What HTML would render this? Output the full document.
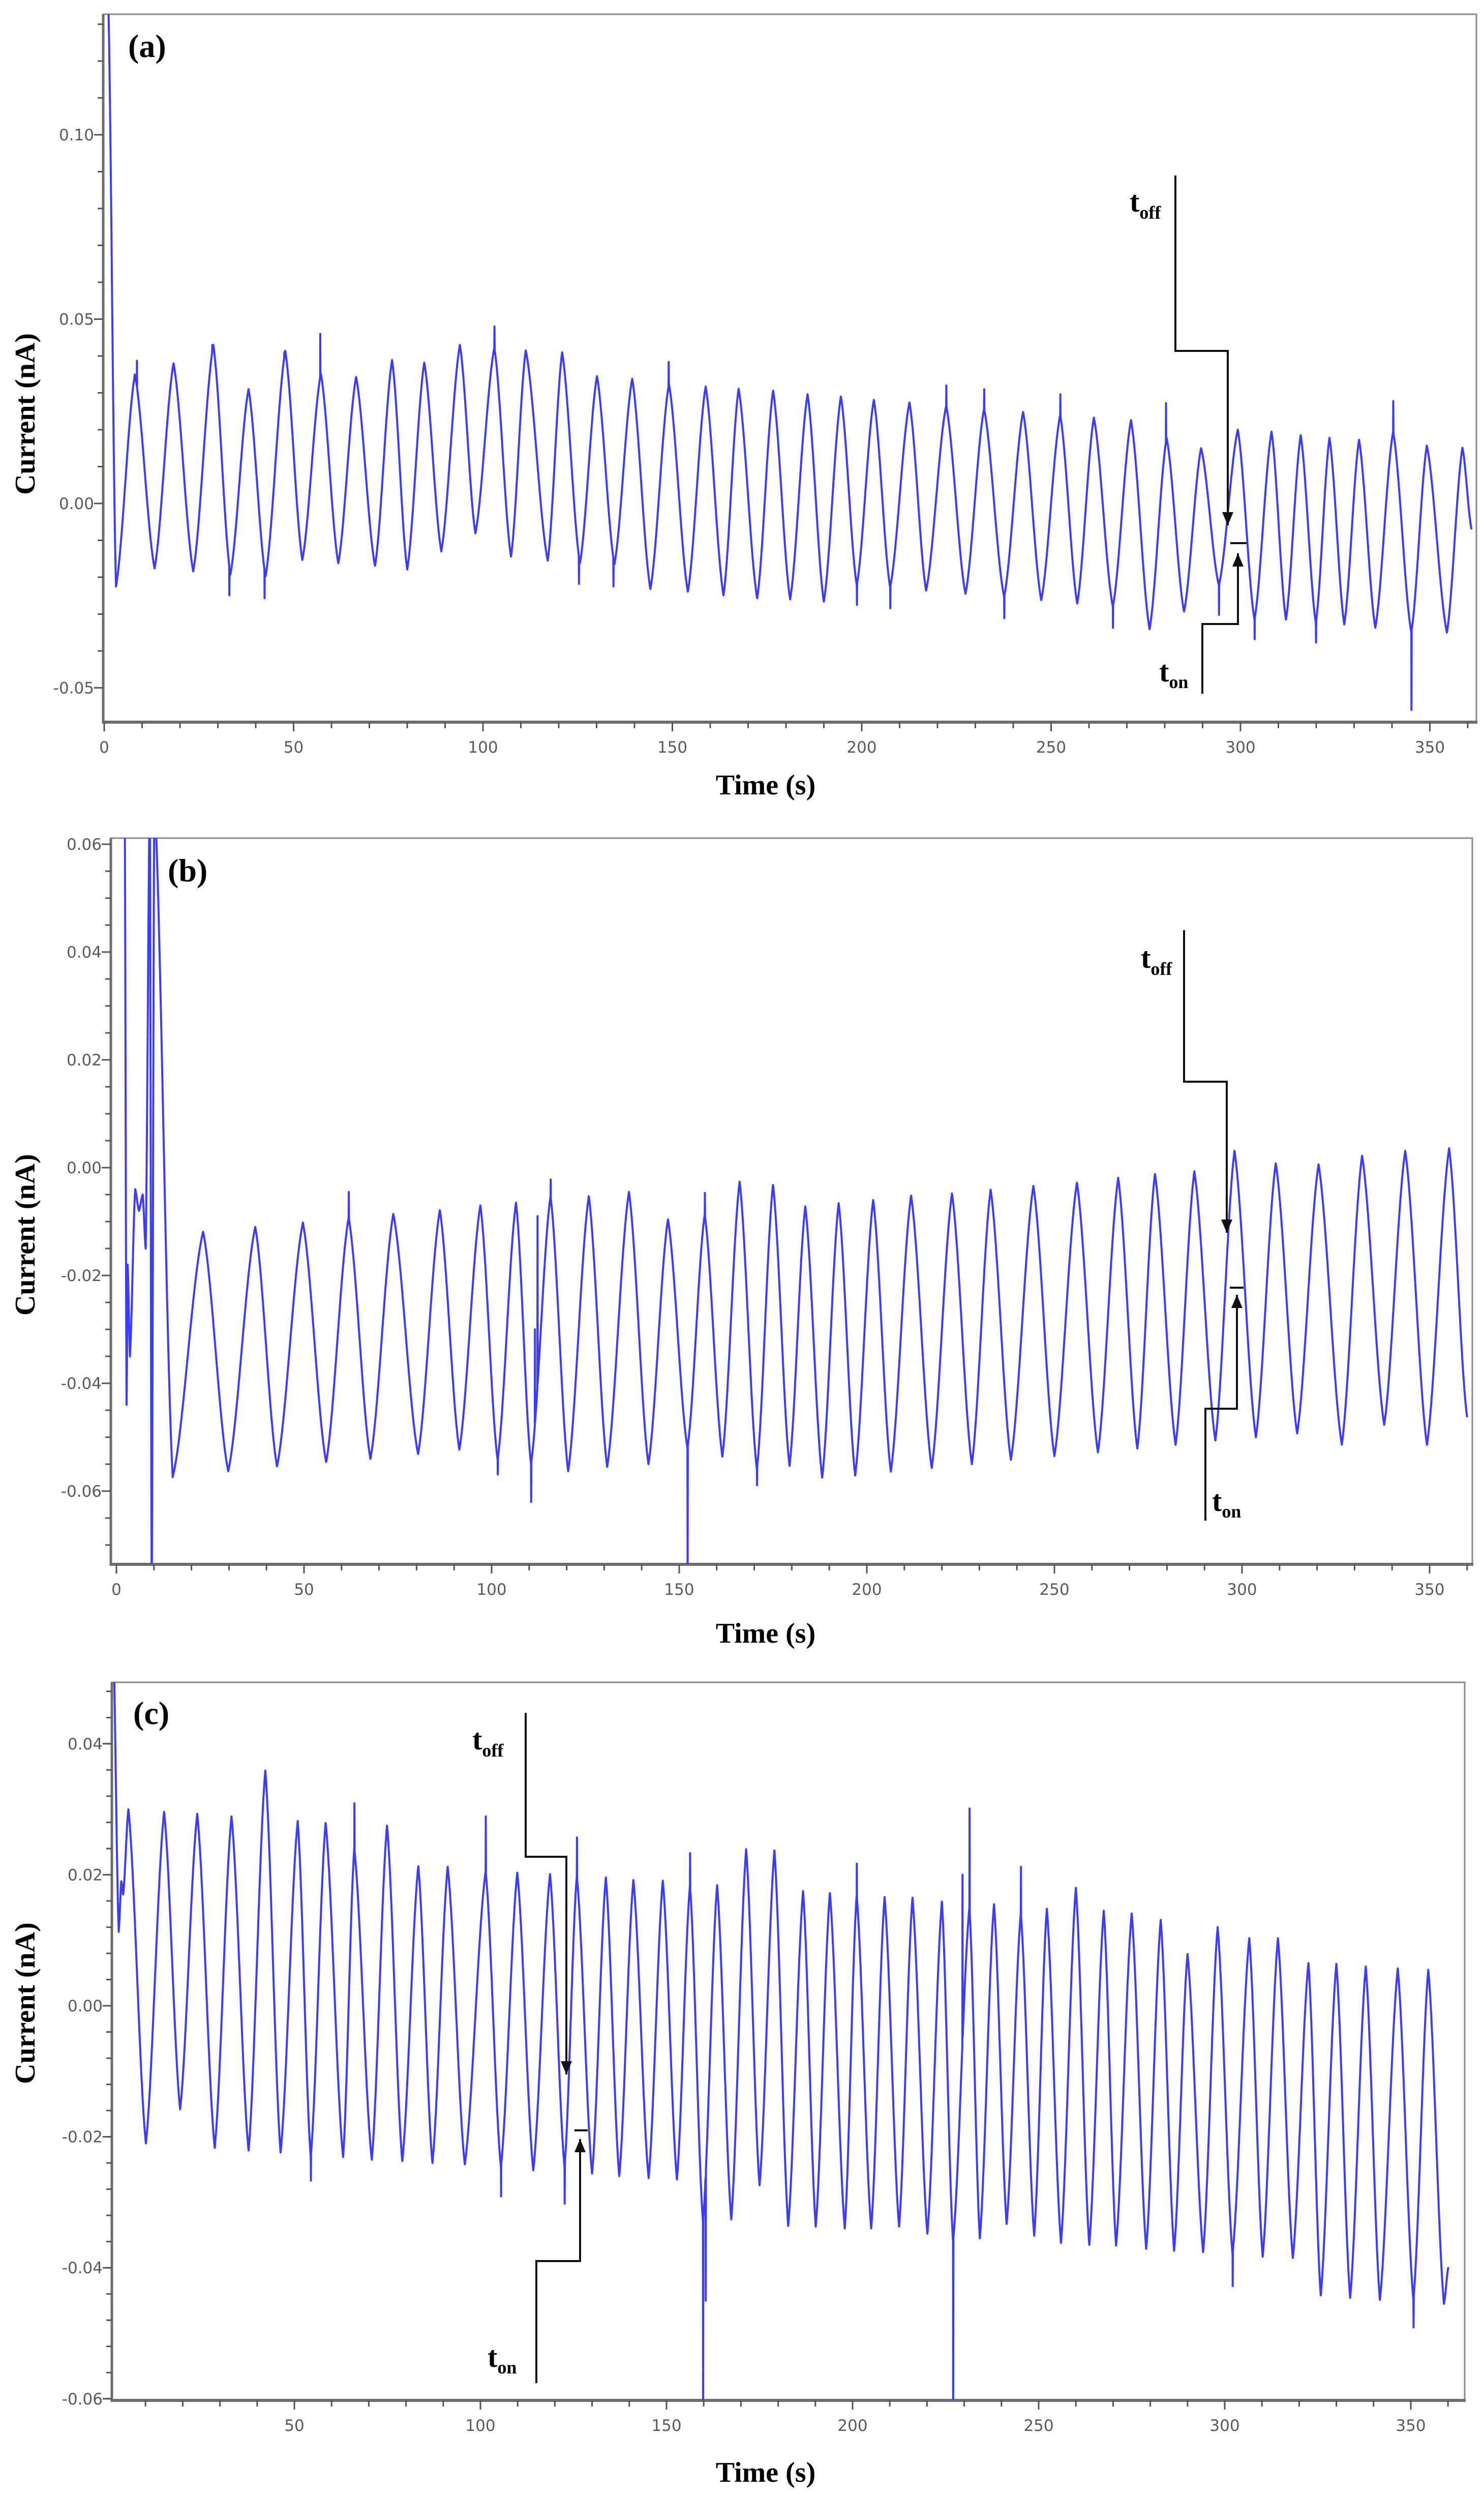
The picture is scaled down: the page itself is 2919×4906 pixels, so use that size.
<!DOCTYPE html>
<html><head><meta charset="utf-8"><style>
html,body{margin:0;padding:0;background:#fff;}
svg{display:block;}
.tk{font-family:"DejaVu Sans",sans-serif;font-size:31px;fill:#5a5a5a;}
.ttl{font-family:"Liberation Serif",serif;font-weight:bold;font-size:56px;fill:#000;}
.plab{font-family:"Liberation Serif",serif;font-weight:bold;font-size:64px;fill:#000;}
.ann{font-family:"Liberation Serif",serif;font-weight:bold;fill:#000;}
</style></head><body>
<svg id="fig" width="2919" height="4906" viewBox="0 0 2919 4906" xmlns="http://www.w3.org/2000/svg">
<rect x="0" y="0" width="2919" height="4906" fill="#fff"/>
</svg>
<script>
// ---------- Panel (a) data ----------
const aExtT=[1,3.1,8.1,13.3,18.3,23.5,28.8,33.3,38.1,42.6,47.8,52.3,57.2,61.8,66.5,71.5,76,80,84.5,89,93.9,98,103,107.4,111.3,117.1,120.9,125.6,130.1,134.7,139.4,144.2,149.1,154.1,158.8,163.5,167.5,172.4,176.6,181.1,185.7,190,194.5,198.7,203.2,207.5,212.6,217,222.3,227.4,232.3,237.6,242.6,247.4,252.4,256.9,261.3,266.3,271.1,276,280.5,285.1,289.6,294.3,299.3,303.7,308.2,312,315.9,319.9,323.5,327.4,331.3,335.6,340.3,345.1,349.2,354.5,358.6,361];
const aExtV=[0.14,-0.0225,0.035,-0.0176,0.038,-0.0184,0.043,-0.0193,0.031,-0.0197,0.0414,-0.0153,0.0352,-0.0162,0.0343,-0.0169,0.0389,-0.0179,0.0382,-0.013,0.043,-0.0081,0.0423,-0.0144,0.0415,-0.0155,0.041,-0.0162,0.0345,-0.0165,0.0338,-0.0232,0.0324,-0.0239,0.0317,-0.0249,0.0311,-0.0257,0.0306,-0.026,0.0296,-0.0266,0.029,-0.0222,0.0281,-0.0227,0.0274,-0.0236,0.0265,-0.0245,0.0257,-0.0253,0.0248,-0.0262,0.024,-0.0271,0.0233,-0.028,0.0226,-0.0341,0.0178,-0.0293,0.015,-0.0222,0.02,-0.0315,0.0195,-0.0315,0.0185,-0.0324,0.0178,-0.0328,0.0173,-0.0337,0.0195,-0.035,0.0157,-0.035,0.0151,-0.007];
const aSpikeT=[8.6,28.5,47.5,57.0,103.0,149.0,222.3,232.3,252.4,280.3,340.3,33.0,42.3,125.3,134.4,198.7,207.5,237.6,266.3,294.3,303.7,319.9,345.1];
const aSpikeV=[0.0387,0.043,0.041,0.046,0.048,0.0384,0.032,0.031,0.0296,0.0272,0.0278,-0.0249,-0.0257,-0.0218,-0.0225,-0.0275,-0.0284,-0.0311,-0.0337,-0.0302,-0.0368,-0.0377,-0.056];
const aYTicks=[-0.05,0,0.05,0.10];
const aYLabels=["-0.05","0.00","0.05","0.10"];
const aXTicks=[0,50,100,150,200,250,300,350];
const aXLabels=["0","50","100","150","200","250","300","350"];

// ---------- Panel (b) data ----------
const bExtT=[2.2,2.7,3.0,3.6,5.0,6.0,7.0,7.8,8.9,9.4,10.1,15,23.1,29.8,37,42.8,49.7,55.9,61.9,67.7,73.8,80.4,86.2,91.4,97,101.6,106.5,110.5,115.7,120.4,125.9,130.8,136.6,141.8,147,152.2,156.8,161.5,166.1,170.7,175,179.4,183.6,188.1,192.5,196.9,201.7,206.4,211.8,217.3,222.7,228,233,238.4,244.4,250,256,261.6,267,272.1,276.8,282.3,287.3,292.9,298,303.7,309,314.7,320.4,326.6,332,337.9,343.5,349.3,355.2,360];
const bExtV=[0.07,-0.044,-0.018,-0.035,-0.004,-0.008,-0.005,-0.015,0.07,-0.08,0.07,-0.0574,-0.0119,-0.0563,-0.011,-0.0554,-0.0102,-0.0546,-0.0093,-0.054,-0.0086,-0.0531,-0.0079,-0.0523,-0.007,-0.0542,-0.0065,-0.055,-0.0053,-0.0563,-0.0053,-0.0555,-0.0045,-0.055,-0.0096,-0.052,-0.0087,-0.0536,-0.0026,-0.056,-0.0032,-0.0553,-0.0072,-0.0575,-0.0066,-0.0571,-0.006,-0.0564,-0.0052,-0.0557,-0.0048,-0.055,-0.0041,-0.0542,-0.0034,-0.0535,-0.0028,-0.0528,-0.0019,-0.0521,-0.0012,-0.0514,-0.0007,-0.0506,0.0031,-0.05,0.0008,-0.0493,0.0006,-0.0514,0.0022,-0.0477,0.0031,-0.0514,0.0036,-0.0463];
const bSpikeT=[61.9,101.6,110.5,111.5,112.2,115.7,152.2,156.8,170.7];
const bSpikeV=[-0.0045,-0.0569,-0.062,-0.03,-0.009,-0.0022,-0.08,-0.0047,-0.0589];
const bYTicks=[-0.06,-0.04,-0.02,0,0.02,0.04,0.06];
const bYLabels=["-0.06","-0.04","-0.02","0.00","0.02","0.04","0.06"];
const bXTicks=[0,50,100,150,200,250,300,350];
const bXLabels=["0","50","100","150","200","250","300","350"];

// ---------- Panel (c) data ----------
const cExtT=[1.2,2.8,3.5,4.0,5.4,10.1,15,19.3,23.9,28.6,33.1,37.7,42.2,46.3,50.9,54.4,58.4,63.1,66.1,70.8,74.9,79,83.3,87.1,91.2,95.8,101.4,105.5,109.9,114.2,118.7,122.6,125.9,130,133.7,137.3,141.1,145.2,149,152.8,156.3,159.8,163.6,167.4,171.4,175,179,182.7,186.7,190.1,193.9,197.9,201.1,205,208.6,212.5,216.1,220.1,224,227,231.4,234.2,238,241.4,245.2,248.8,252.2,256,260,263.6,267.5,270.8,275,278.9,282.8,286.4,290,294.2,298.1,302.1,306.6,310.2,314.3,318.3,322.5,325.8,330,333.7,337.9,341.7,346.5,350.7,354.7,358.9,360.1];
const cExtV=[0.06,0.0113,0.019,0.017,0.030,-0.021,0.0296,-0.0158,0.0293,-0.0217,0.0289,-0.0221,0.0359,-0.0224,0.0282,-0.0231,0.0279,-0.0231,0.024,-0.0235,0.0275,-0.0237,0.0213,-0.024,0.0212,-0.0242,0.0205,-0.0246,0.0203,-0.0251,0.0201,-0.0246,0.0198,-0.0256,0.0196,-0.026,0.0192,-0.0263,0.0191,-0.0265,0.0184,-0.033,0.0184,-0.0326,0.0239,-0.0274,0.0237,-0.0336,0.0175,-0.0337,0.0172,-0.034,0.0169,-0.034,0.0166,-0.0337,0.0165,-0.0348,0.0159,-0.036,0.015,-0.0355,0.0155,-0.0333,0.0141,-0.0351,0.0148,-0.0362,0.018,-0.0365,0.0145,-0.0366,0.0141,-0.0371,0.0131,-0.0374,0.0079,-0.0376,0.012,-0.0379,0.0103,-0.0383,0.0103,-0.0385,0.0065,-0.0442,0.0064,-0.0446,0.006,-0.0449,0.0057,-0.0449,0.0055,-0.0455,-0.0399];
const cSpikeT=[54.4,66.1,101.4,105.5,122.6,125.9,156.3,159.8,160.5,201.1,227,229.5,231.4,245.2,302.1,350.7];
const cSpikeV=[-0.0267,0.0309,0.0289,-0.0291,-0.0302,0.0257,0.0233,-0.065,-0.045,0.0217,-0.075,0.02,0.0301,0.0212,-0.0428,-0.0491];
const cYTicks=[-0.06,-0.04,-0.02,0,0.02,0.04];
const cYLabels=["-0.06","-0.04","-0.02","0.00","0.02","0.04"];
const cXTicks=[50,100,150,200,250,300,350];
const cXLabels=["50","100","150","200","250","300","350"];

const NS="http://www.w3.org/2000/svg";
const svg=document.getElementById('fig');
function mk(tag,attrs,parent){const e=document.createElementNS(NS,tag);for(const k in attrs)e.setAttribute(k,attrs[k]);(parent||svg).appendChild(e);return e;}

function evalCurve(T,V,t){
  if(t<=T[0])return V[0];
  for(let i=0;i<T.length-1;i++){
    if(t<=T[i+1]){const f=(t-T[i])/(T[i+1]-T[i]);const s=0.5*f+0.5*(1-Math.cos(Math.PI*f))/2;return V[i]+(V[i+1]-V[i])*s;}
  }
  return V[V.length-1];
}

function panel(cfg){
  const g=mk('g',{});
  
  
  const X=t=>cfg.x0+cfg.kx*t, Y=v=>cfg.y0-cfg.ky*v;
  const L=cfg.left,R=cfg.right,Tp=cfg.top,B=cfg.bottom;
  const cid='clip-'+cfg.id;
  const cp=mk('clipPath',{id:cid},g); mk('rect',{x:L,y:Tp,width:R-L,height:B-Tp},cp);
  const fr=mk('rect',{x:L,y:Tp,width:R-L,height:B-Tp,fill:'none',stroke:'#8a8a8a','stroke-width':3},g);
  
  
  const ya=mk('line',{x1:L,y1:Tp,x2:L,y2:B+2,stroke:'#6e6e6e','stroke-width':5},g);
  
  
  const xa=mk('line',{x1:L-2,y1:B,x2:R+2,y2:B,stroke:'#6e6e6e','stroke-width':6},g);
  
  
  for(let v=cfg.yMinorStart;v<=cfg.yMinorEnd+1e-9;v+=cfg.yMinorStep){
    const y=Y(v); if(y<Tp-1||y>B+1)continue;
    mk('line',{x1:L-11,y1:y,x2:L,y2:y,stroke:'#555','stroke-width':3},g);
  }
  cfg.yTicks.forEach((v,i)=>{
    const y=Y(v);
    const tl=mk('line',{x1:L-18,y1:y,x2:L,y2:y,stroke:'#555','stroke-width':3},g);
    
    
    const tx=mk('text',{x:L-18,y:y+11,'text-anchor':'end',class:'tk'},g);
    tx.textContent=cfg.yLabels[i];
    
    
  });
  for(let t=cfg.xMinorStart;t<=cfg.xMinorEnd;t+=10){
    const x=X(t); if(x<L-1||x>R+1)continue;
    mk('line',{x1:x,y1:B,x2:x,y2:B+12,stroke:'#555','stroke-width':3},g);
  }
  cfg.xTicks.forEach((t,i)=>{
    const x=X(t);
    const tl=mk('line',{x1:x,y1:B,x2:x,y2:B+18,stroke:'#555','stroke-width':3},g);
    
    
    const tx=mk('text',{x:x,y:B+60,'text-anchor':'middle',class:'tk'},g);
    tx.textContent=cfg.xLabels[i];
    
    
  });
  const T=cfg.T,V=cfg.V;
  const pts=[];
  for(let t=T[0];t<=T[T.length-1]+1e-9;t+=0.1)pts.push([t,evalCurve(T,V,t)]);
  cfg.ST.forEach((s,i)=>{
    const b=evalCurve(T,V,s);
    pts.push([s-0.001,b]);pts.push([s+0.04,cfg.SV[i]]);pts.push([s+0.09,evalCurve(T,V,s+0.09)]);
  });
  pts.sort((p,q)=>p[0]-q[0]);
  let d='';
  pts.forEach((p,i)=>{d+=(i?'L':'M')+X(p[0]).toFixed(1)+' '+Y(p[1]).toFixed(1);});
  const path=mk('path',{d:d,fill:'none',stroke:'#3c3cff','stroke-width':4,'stroke-linejoin':'round','clip-path':'url(#'+cid+')'},g);
  
  
  const yt=mk('text',{x:0,y:0,'text-anchor':'middle',class:'ttl',transform:'translate('+cfg.ytx+','+cfg.yty+') rotate(-90)'},g);
  yt.textContent='Current (nA)';
  
  
  const xt=mk('text',{x:1506,y:cfg.xty,'text-anchor':'middle',class:'ttl'},g);
  xt.textContent='Time (s)';
  
  
  const pl=mk('text',{x:cfg.plx,y:cfg.ply,class:'plab'},g);
  pl.textContent=cfg.label;
  
  
  const an=cfg.ann;
  const ag=mk('g',{},g);
  
  
  mk('polyline',{points:an.off.map(p=>p.join(',')).join(' '),fill:'none',stroke:'#111','stroke-width':4},ag);
  const o=an.off[an.off.length-1];
  mk('polygon',{points:(o[0]-11)+','+(o[1]-26)+' '+(o[0]+11)+','+(o[1]-26)+' '+o[0]+','+o[1],fill:'#111'},ag);
  mk('polyline',{points:an.on.map(p=>p.join(',')).join(' '),fill:'none',stroke:'#111','stroke-width':4},ag);
  const n=an.on[an.on.length-1];
  mk('polygon',{points:(n[0]-11)+','+(n[1]+26)+' '+(n[0]+11)+','+(n[1]+26)+' '+n[0]+','+n[1],fill:'#111'},ag);
  mk('line',{x1:an.bar[0],y1:an.bar[2],x2:an.bar[1],y2:an.bar[2],stroke:'#111','stroke-width':4},ag);
  const t1=mk('text',{x:an.offLab[0],y:an.offLab[1],class:'ann','font-size':58},ag);
  t1.innerHTML='t<tspan font-size="36" dy="14">off</tspan>';
  
  
  const t2=mk('text',{x:an.onLab[0],y:an.onLab[1],class:'ann','font-size':58},ag);
  t2.innerHTML='t<tspan font-size="36" dy="13">on</tspan>';
  
  
}

panel({id:'a',name:'panel-a',label:'(a)',left:203,right:2904,top:28,bottom:1420,x0:205,kx:7.45,y0:990,ky:7250,
  yTicks:aYTicks,yLabels:aYLabels,yMinorStart:-0.05,yMinorEnd:0.13,yMinorStep:0.01,
  xTicks:aXTicks,xLabels:aXLabels,xMinorStart:0,xMinorEnd:360,
  T:aExtT,V:aExtV,ST:aSpikeT,SV:aSpikeV,ytx:68,yty:814,xty:1562,plx:252,ply:112,
  ann:{off:[[2312,345],[2312,690],[2415,690],[2415,1033]],on:[[2365,1364],[2365,1227],[2435,1227],[2435,1088]],bar:[2420,2452,1068],offLab:[2222,416],onLab:[2280,1340]}});
panel({id:'b',name:'panel-b',label:'(b)',left:218,right:2896,top:1648,bottom:3076,x0:229,kx:7.38,y0:2296,ky:10600,
  yTicks:bYTicks,yLabels:bYLabels,yMinorStart:-0.07,yMinorEnd:0.06,yMinorStep:0.005,
  xTicks:bXTicks,xLabels:bXLabels,xMinorStart:0,xMinorEnd:360,
  T:bExtT,V:bExtV,ST:bSpikeT,SV:bSpikeV,ytx:68,yty:2428,xty:3230,plx:330,ply:1733,
  ann:{off:[[2329,1829],[2329,2127],[2413,2127],[2413,2424]],on:[[2371,2990],[2371,2770],[2433,2770],[2433,2546]],bar:[2419,2446,2532],offLab:[2244,1903],onLab:[2384,2971]}});
panel({id:'c',name:'panel-c',label:'(c)',left:220,right:2881,top:3308,bottom:4720,x0:213,kx:7.32,y0:3944,ky:12880,
  yTicks:cYTicks,yLabels:cYLabels,yMinorStart:-0.06,yMinorEnd:0.048,yMinorStep:0.004,
  xTicks:cXTicks,xLabels:cXLabels,xMinorStart:10,xMinorEnd:360,
  T:cExtT,V:cExtV,ST:cSpikeT,SV:cSpikeV,ytx:68,yty:3939,xty:4880,plx:262,ply:3390,
  ann:{off:[[1034,3368],[1034,3651],[1114,3651],[1114,4079]],on:[[1055,4686],[1055,4446],[1141,4446],[1141,4206]],bar:[1130,1156,4189],offLab:[929,3440],onLab:[959,4654]}});
</script>
</body></html>
